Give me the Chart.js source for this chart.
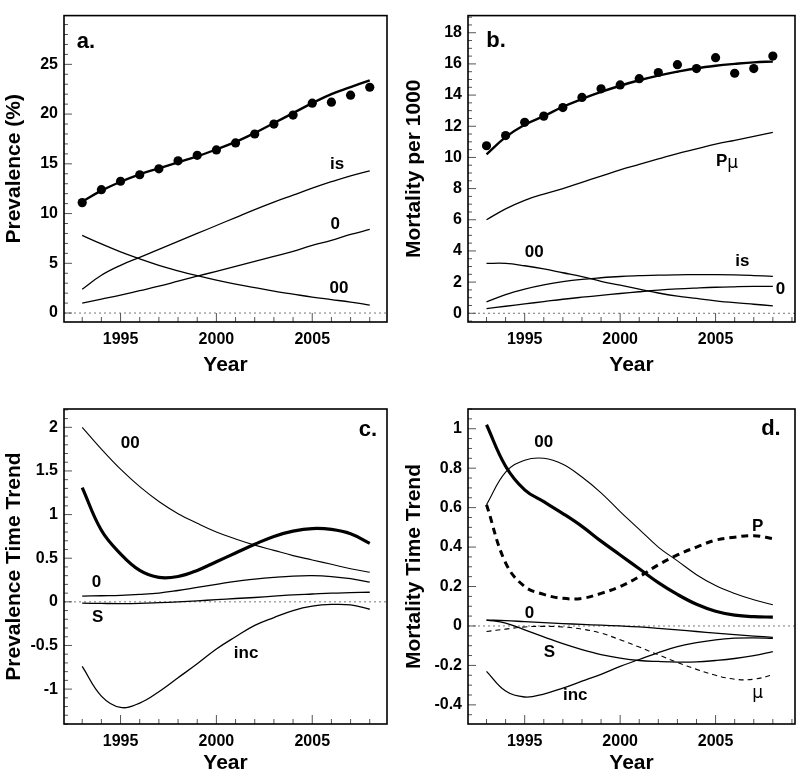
<!DOCTYPE html>
<html>
<head>
<meta charset="utf-8">
<script src="https://cdn.jsdelivr.net/npm/chart.js@4.4.1/dist/chart.umd.min.js"></script>
<style>
  body { margin: 0; background: #fff; width: 800px; height: 779px; position: relative; overflow: hidden; }
  canvas { position: absolute; }
</style>
</head>
<body>
<canvas id="panelA" width="400" height="390" style="left:0;top:0"></canvas>
<canvas id="panelB" width="400" height="390" style="left:400px;top:0"></canvas>
<canvas id="panelC" width="400" height="389" style="left:0;top:390px"></canvas>
<canvas id="panelD" width="400" height="389" style="left:400px;top:390px"></canvas>
<script>
const years = [1993, 1994, 1995, 1996, 1997, 1998, 1999, 2000, 2001, 2002, 2003, 2004, 2005, 2006, 2007, 2008];

// a. prevalence (%)
const prevObserved = [11.1, 12.4, 13.25, 13.9, 14.5, 15.3, 15.85, 16.4, 17.1, 18.0, 19.0, 19.9, 21.1, 21.2, 21.9, 22.7];
const prevFit = [11.2, 12.3, 13.2, 13.95, 14.55, 15.15, 15.75, 16.45, 17.2, 18.1, 19.1, 20.1, 21.1, 22.0, 22.7, 23.4];
const prevIs = [2.4, 3.8, 4.8, 5.6, 6.4, 7.2, 8.0, 8.8, 9.6, 10.4, 11.15, 11.85, 12.55, 13.2, 13.8, 14.3];
const prev0 = [1.0, 1.4, 1.8, 2.25, 2.7, 3.2, 3.7, 4.2, 4.7, 5.2, 5.7, 6.2, 6.8, 7.3, 7.9, 8.4];
const prev00 = [7.8, 6.95, 6.15, 5.45, 4.8, 4.25, 3.75, 3.3, 2.9, 2.55, 2.2, 1.9, 1.6, 1.35, 1.1, 0.8];
const labelsA = [['a.', 1993.2, 27.3], ['is', 2006.3, 15.0], ['0', 2006.2, 8.9], ['00', 2006.4, 2.5]];

// b. mortality per 1000
const mortObserved = [10.75, 11.4, 12.25, 12.65, 13.2, 13.85, 14.4, 14.65, 15.05, 15.45, 15.95, 15.7, 16.4, 15.4, 15.7, 16.5];
const mortFit = [10.2, 11.3, 12.1, 12.65, 13.25, 13.75, 14.2, 14.6, 14.95, 15.25, 15.5, 15.72, 15.88, 16.0, 16.1, 16.15];
const mortPmu = [6.0, 6.7, 7.25, 7.65, 8.0, 8.4, 8.8, 9.2, 9.55, 9.9, 10.25, 10.55, 10.85, 11.1, 11.35, 11.6];
const mort00 = [3.2, 3.2, 3.05, 2.85, 2.6, 2.35, 2.05, 1.8, 1.55, 1.3, 1.1, 0.95, 0.8, 0.68, 0.58, 0.48];
const mortIs = [0.73, 1.2, 1.55, 1.82, 2.03, 2.18, 2.28, 2.36, 2.41, 2.45, 2.47, 2.48, 2.48, 2.46, 2.42, 2.37];
const mort0 = [0.3, 0.45, 0.6, 0.75, 0.9, 1.03, 1.15, 1.27, 1.38, 1.48, 1.56, 1.62, 1.67, 1.7, 1.72, 1.72];
const labelsB = [['b.', 1993.5, 17.5], ['Pμ', 2005.6, 9.74], ['00', 1995.5, 3.88], ['is', 2006.4, 3.35], ['0', 2008.4, 1.52]];

// c. prevalence time trend
const ptTotal = [1.31, 0.82, 0.55, 0.36, 0.28, 0.29, 0.36, 0.46, 0.56, 0.66, 0.75, 0.81, 0.84, 0.83, 0.78, 0.67];
const pt00 = [2.0, 1.75, 1.52, 1.32, 1.15, 1.01, 0.9, 0.8, 0.72, 0.65, 0.59, 0.53, 0.48, 0.43, 0.38, 0.34];
const pt0 = [0.065, 0.07, 0.075, 0.085, 0.1, 0.13, 0.165, 0.2, 0.235, 0.26, 0.28, 0.295, 0.3, 0.29, 0.265, 0.225];
const ptS = [-0.015, -0.018, -0.02, -0.018, -0.01, 0.0, 0.012, 0.025, 0.038, 0.05, 0.065, 0.08, 0.09, 0.1, 0.105, 0.11];
const ptInc = [-0.74, -1.08, -1.21, -1.16, -1.03, -0.87, -0.71, -0.54, -0.4, -0.27, -0.18, -0.1, -0.05, -0.03, -0.035, -0.085];
const labelsC = [['c.', 2007.9, 1.97], ['00', 1995.5, 1.82], ['0', 1993.75, 0.22], ['S', 1993.8, -0.18], ['inc', 2001.55, -0.59]];

// d. mortality time trend
const mtTotal = [1.02, 0.81, 0.69, 0.63, 0.57, 0.505, 0.43, 0.36, 0.29, 0.22, 0.16, 0.11, 0.075, 0.055, 0.047, 0.045];
const mt00 = [0.615, 0.78, 0.84, 0.85, 0.82, 0.755, 0.675, 0.58, 0.49, 0.4, 0.33, 0.26, 0.205, 0.165, 0.133, 0.108];
const mtP = [0.615, 0.32, 0.2, 0.16, 0.14, 0.14, 0.165, 0.2, 0.25, 0.31, 0.36, 0.4, 0.435, 0.45, 0.458, 0.443];
const mt0 = [0.03, 0.027, 0.022, 0.017, 0.012, 0.008, 0.004, 0.0, -0.005, -0.012, -0.02, -0.028, -0.036, -0.044, -0.051, -0.058];
const mtS = [0.03, 0.015, -0.02, -0.055, -0.09, -0.12, -0.145, -0.163, -0.175, -0.18, -0.183, -0.182, -0.175, -0.165, -0.15, -0.13];
const mtInc = [-0.23, -0.33, -0.36, -0.345, -0.315, -0.28, -0.245, -0.205, -0.17, -0.135, -0.105, -0.085, -0.07, -0.062, -0.06, -0.063];
const mtMu = [-0.028, -0.016, -0.005, -0.002, -0.005, -0.016, -0.036, -0.07, -0.107, -0.146, -0.185, -0.22, -0.25, -0.27, -0.27, -0.248];
const labelsD = [['d.', 2007.9, 1.0], ['00', 1996.0, 0.93], ['P', 2007.2, 0.505], ['0', 1995.25, 0.062], ['S', 1996.3, -0.133], ['inc', 1997.65, -0.35], ['μ', 2007.2, -0.333]];

const FAMILY = "'Liberation Sans', Arial, Helvetica, sans-serif";

function line(values, width, dash) {
  return {
    data: years.map((x, i) => ({ x, y: values[i] })),
    borderColor: '#000',
    borderWidth: width,
    borderDash: dash || [],
    pointRadius: 0,
    tension: 0.4,
    fill: false,
  };
}

function dots(values) {
  return {
    data: years.map((x, i) => ({ x, y: values[i] })),
    showLine: false,
    pointRadius: 4.6,
    pointBackgroundColor: '#000',
    pointBorderWidth: 0,
  };
}

// ROOT-like frame: inner ticks, dotted zero line, curve labels
const panelPlugin = {
  id: 'panel',
  beforeDatasetsDraw(chart) {
    const { ctx, chartArea: a, scales } = chart;
    const y0 = scales.y.getPixelForValue(0);
    ctx.save();
    ctx.strokeStyle = '#777';
    ctx.lineWidth = 1;
    ctx.setLineDash([2, 3]);
    ctx.beginPath();
    ctx.moveTo(a.left, y0);
    ctx.lineTo(a.right, y0);
    ctx.stroke();
    ctx.restore();
  },
  afterDatasetsDraw(chart, args, opts) {
    const { ctx, chartArea: a, scales } = chart;
    ctx.save();
    ctx.strokeStyle = '#555';
    ctx.lineWidth = 1;
    const ticksOf = (scale, minor, major) => {
      const out = [];
      for (let v = Math.ceil(scale.min / minor - 1e-9) * minor; v <= scale.max + 1e-9; v += minor) {
        const r = v / major;
        out.push([scale.getPixelForValue(v), Math.abs(r - Math.round(r)) < 1e-6]);
      }
      return out;
    };
    ctx.beginPath();
    for (const [px, big] of ticksOf(scales.x, 1, 5)) {
      ctx.moveTo(px, a.bottom);
      ctx.lineTo(px, a.bottom - (big ? 9 : 5));
    }
    for (const [py, big] of ticksOf(scales.y, opts.yMinor, opts.yMajor)) {
      ctx.moveTo(a.left, py);
      ctx.lineTo(a.left + (big ? 8 : 4), py);
    }
    ctx.stroke();

    ctx.strokeStyle = '#000';
    ctx.lineWidth = 1.6;
    ctx.strokeRect(a.left, a.top, a.right - a.left, a.bottom - a.top);

    ctx.fillStyle = '#000';
    ctx.textBaseline = 'middle';
    ctx.textAlign = 'center';
    for (const [text, xv, yv] of opts.labels) {
      const px = scales.x.getPixelForValue(xv);
      const py = scales.y.getPixelForValue(yv);
      const big = text.endsWith('.');
      if (text.includes('μ')) {
        const head = text.replace('μ', '');
        ctx.font = `bold 17px ${FAMILY}`;
        const w1 = ctx.measureText(head).width;
        ctx.font = `17px 'DejaVu Sans', sans-serif`;
        const w2 = ctx.measureText('μ').width;
        const left = px - (w1 + w2) / 2;
        ctx.textAlign = 'left';
        ctx.font = `bold 17px ${FAMILY}`;
        ctx.fillText(head, left, py);
        ctx.font = `17px 'DejaVu Sans', sans-serif`;
        ctx.fillText('μ', left + w1, py + 2);
        ctx.textAlign = 'center';
      } else {
        ctx.font = `bold ${big ? 22 : 17}px ${FAMILY}`;
        ctx.fillText(text, px, py);
      }
    }
    ctx.restore();
  },
};

function makePanel(id, cfg) {
  const tickFont = { family: FAMILY, size: 16, weight: 'bold' };
  const titleFont = { family: FAMILY, size: 21, weight: 'bold' };
  return new Chart(document.getElementById(id), {
    type: 'line',
    data: { datasets: cfg.datasets },
    plugins: [panelPlugin],
    options: {
      responsive: false,
      animation: false,
      layout: { padding: { top: cfg.top, right: cfg.right, left: 0, bottom: 0 } },
      plugins: {
        legend: { display: false },
        tooltip: { enabled: false },
        panel: { yMinor: cfg.yMinor, yMajor: cfg.yMajor, labels: cfg.labels },
      },
      scales: {
        x: {
          type: 'linear',
          min: cfg.xMin,
          max: cfg.xMax,
          grid: { display: false, drawTicks: false },
          border: { display: false },
          ticks: {
            stepSize: 5,
            includeBounds: false,
            padding: 8,
            color: '#000',
            font: tickFont,
            maxRotation: 0,
            autoSkip: false,
            callback: (v) => String(v),
          },
          title: { display: true, text: 'Year', color: '#000', font: titleFont, padding: { top: 0, bottom: cfg.xTitlePad } },
          afterFit: (s) => { s.height = cfg.xH; },
        },
        y: {
          min: cfg.yMin,
          max: cfg.yMax,
          grid: { display: false, drawTicks: false },
          border: { display: false },
          ticks: {
            stepSize: cfg.yMajor,
            includeBounds: false,
            padding: 6,
            color: '#000',
            font: tickFont,
            autoSkip: false,
            callback: (v) => String(+v.toFixed(2)),
          },
          title: { display: true, text: cfg.yTitle, color: '#000', font: titleFont, padding: { top: 2, bottom: 0 } },
          afterFit: (s) => { s.width = cfg.yW; },
        },
      },
    },
  });
}

makePanel('panelA', {
  datasets: [dots(prevObserved), line(prevFit, 2.4), line(prevIs, 1.3), line(prev0, 1.3), line(prev00, 1.3)],
  labels: labelsA,
  top: 6, right: 13, yW: 64, xH: 68, xTitlePad: 12,
  xMin: 1992.05, xMax: 2008.9, yMin: -0.9, yMax: 29.9, yMajor: 5, yMinor: 1,
  yTitle: 'Prevalence (%)',
});

makePanel('panelB', {
  datasets: [dots(mortObserved), line(mortFit, 2.4), line(mortPmu, 1.3), line(mort00, 1.3), line(mortIs, 1.3), line(mort0, 1.3)],
  labels: labelsB,
  top: 6, right: 5, yW: 68, xH: 68, xTitlePad: 12,
  xMin: 1992.03, xMax: 2009.16, yMin: -0.56, yMax: 19.1, yMajor: 2, yMinor: 0.5,
  yTitle: 'Mortality per 1000',
});

makePanel('panelC', {
  datasets: [line(ptTotal, 3.2), line(pt00, 1.1), line(pt0, 1.3), line(ptS, 1.3), line(ptInc, 1.3)],
  labels: labelsC,
  top: 19, right: 13, yW: 64, xH: 55, xTitlePad: 3,
  xMin: 1992.05, xMax: 2008.9, yMin: -1.4, yMax: 2.21, yMajor: 0.5, yMinor: 0.1,
  yTitle: 'Prevalence Time Trend',
});

makePanel('panelD', {
  datasets: [line(mtTotal, 3.2), line(mt00, 1.1), line(mtP, 3, [7, 5]), line(mt0, 1.3), line(mtS, 1.3), line(mtInc, 1.3), line(mtMu, 1.1, [5, 4])],
  labels: labelsD,
  top: 19, right: 5, yW: 68, xH: 55, xTitlePad: 3,
  xMin: 1992.03, xMax: 2009.16, yMin: -0.497, yMax: 1.1, yMajor: 0.2, yMinor: 0.05,
  yTitle: 'Mortality Time Trend',
});
</script>
</body>
</html>
